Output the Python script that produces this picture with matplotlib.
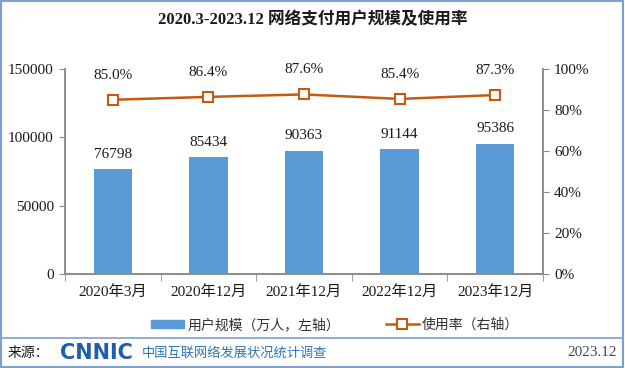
import matplotlib
matplotlib.use("Agg")
import matplotlib.pyplot as plt
from matplotlib.patches import Rectangle, Patch
from matplotlib.lines import Line2D
from matplotlib.ticker import FuncFormatter, FixedLocator

plt.rcParams['font.family'] = ['Liberation Serif', 'Noto Sans CJK SC']

# --- data ---
categories = ["2020年3月", "2020年12月", "2021年12月", "2022年12月", "2023年12月"]
users = [76798, 85434, 90363, 91144, 95386]           # 万人
usage_rate = [0.850, 0.864, 0.876, 0.854, 0.873]

title = "2020.3-2023.12 网络支付用户规模及使用率"
bar_label = "用户规模（万人，左轴）"
line_label = "使用率（右轴）"

BAR_C = "#5B9BD5"
LINE_C = "#C55A11"
AXIS_C = "#8C8C8C"
TEXT_C = "#1A1A1A"

W, H = 625, 368
fig = plt.figure(figsize=(W / 100, H / 100), dpi=100)

ax = fig.add_axes([65 / W, 1 - 274 / H, 478 / W, 205 / H])
x = range(len(categories))
ax.bar(x, users, width=0.4, color=BAR_C, zorder=2)
ax.set_xlim(-0.5, len(categories) - 0.5)
ax.set_ylim(0, 150000)
ax.set_yticks([0, 50000, 100000, 150000])
for xi, v in zip(x, users):
    ax.annotate(f"{v}", (xi, v), xytext=(0, 6), textcoords="offset points",
                ha="center", va="bottom", fontsize=11, color=TEXT_C)

ax2 = ax.twinx()
ax2.plot(x, usage_rate, color=LINE_C, lw=1.8, marker="s", ms=7,
         mfc="white", mec=LINE_C, mew=1.5, zorder=3)
ax2.set_ylim(0, 1)
ax2.set_yticks([0, .2, .4, .6, .8, 1.0])
ax2.yaxis.set_major_formatter(FuncFormatter(lambda v, p: f"{v:.0%}"))
for xi, v in zip(x, usage_rate):
    ax2.annotate(f"{v:.1%}", (xi, v), xytext=(0, 13), textcoords="offset points",
                 ha="center", va="bottom", fontsize=11, color=TEXT_C)

ax.set_xticks(list(x))
ax.set_xticklabels(categories)
ax.xaxis.set_minor_locator(FixedLocator([i - 0.5 for i in range(len(categories) + 1)]))
ax.tick_params(axis="x", which="major", length=0, pad=8, labelsize=11, colors=TEXT_C)
ax.tick_params(axis="x", which="minor", length=5, color=AXIS_C, direction="out")
ax.tick_params(axis="y", length=4, color=AXIS_C, labelsize=11, labelcolor=TEXT_C, pad=4)
ax2.tick_params(axis="y", length=4, color=AXIS_C, labelsize=11, labelcolor=TEXT_C, pad=4)

for a in (ax, ax2):
    a.spines["top"].set_visible(False)
    for s in ("left", "right", "bottom"):
        a.spines[s].set_color(AXIS_C)
        a.spines[s].set_linewidth(1.2)

# --- title / legend ---
fig.text(0.5, 1 - 20 / H, title, ha="center", va="center",
         fontsize=12, fontweight="bold", color=TEXT_C)

handles = [Patch(color=BAR_C, label=bar_label),
           Line2D([], [], color=LINE_C, lw=1.8, marker="s", ms=7,
                  mfc="white", mec=LINE_C, mew=1.5, label=line_label)]
fig.legend(handles=handles, loc="center", bbox_to_anchor=(335 / W, 1 - 325 / H),
           ncol=2, frameon=False, fontsize=10, handlelength=2.4,
           handleheight=0.6, columnspacing=3.3, handletextpad=0.2,
           labelcolor="#333333")

# --- frame / footer ---
fig.add_artist(Rectangle((0.002, 0.003), 0.995, 0.994, transform=fig.transFigure,
                         fill=False, edgecolor="#7F9FCF", lw=1.5))
fig.add_artist(Line2D([0.002, 0.997], [1 - 338 / H] * 2, transform=fig.transFigure,
                      color="#7F9FCF", lw=1.2))
fy = 1 - 353 / H
fig.text(8 / W, fy, "来源：", ha="left", va="center", fontsize=10, color=TEXT_C)
fig.text(60 / W, fy, "CNNIC", ha="left", va="center", fontsize=15,
         fontweight="heavy", family="DejaVu Sans", color="#1F5FAA")
fig.text(142 / W, fy, "中国互联网络发展状况统计调查", ha="left", va="center",
         fontsize=9.5, color="#2E75B6")
fig.text(617 / W, fy, "2023.12", ha="right", va="center", fontsize=11, color="#3A4A60")

fig.savefig("out.png", dpi=100)
